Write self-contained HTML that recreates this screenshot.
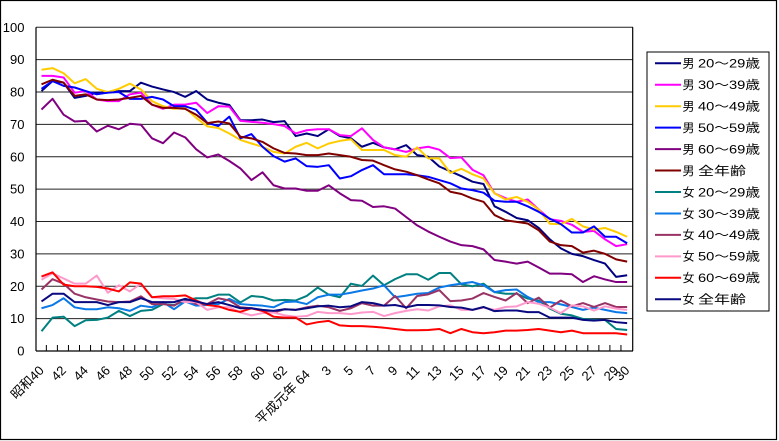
<!DOCTYPE html>
<html><head><meta charset="utf-8"><style>
html,body{margin:0;padding:0;background:#fff;}
svg{display:block;}
text{font-family:"Liberation Sans","Noto Sans CJK JP",sans-serif;fill:#000;}
</style></head><body>
<svg width="779" height="441" viewBox="0 0 779 441" xmlns="http://www.w3.org/2000/svg">
<rect x="0" y="0" width="779" height="441" fill="#fff"/>
<rect x="0.5" y="0.5" width="776" height="439" fill="none" stroke="#000" stroke-width="1.2"/>
<!-- gridlines -->
<g stroke="#222" stroke-width="1">
<line x1="36" x2="633" y1="27.3" y2="27.3"/>
<line x1="36" x2="633" y1="59.67" y2="59.67"/>
<line x1="36" x2="633" y1="92.04" y2="92.04"/>
<line x1="36" x2="633" y1="124.41" y2="124.41"/>
<line x1="36" x2="633" y1="156.78" y2="156.78"/>
<line x1="36" x2="633" y1="189.15" y2="189.15"/>
<line x1="36" x2="633" y1="221.52" y2="221.52"/>
<line x1="36" x2="633" y1="253.89" y2="253.89"/>
<line x1="36" x2="633" y1="286.26" y2="286.26"/>
<line x1="36" x2="633" y1="318.63" y2="318.63"/>
</g>
<g stroke="#000" stroke-width="1.2" fill="none">
<line x1="36" x2="36" y1="27.3" y2="351"/>
<line x1="632.7" x2="632.7" y1="27.3" y2="351"/>
<line x1="36" x2="633" y1="351" y2="351"/>
</g>
<!-- ticks -->
<g transform="translate(35.3,0) scale(11.05,1)">
<path vector-effect="non-scaling-stroke" stroke="#000" stroke-width="1" fill="none" d="M1 345V351M2 345V351M3 345V351M4 345V351M5 345V351M6 345V351M7 345V351M8 345V351M9 345V351M10 345V351M11 345V351M12 345V351M13 345V351M14 345V351M15 345V351M16 345V351M17 345V351M18 345V351M19 345V351M20 345V351M21 345V351M22 345V351M23 345V351M24 345V351M25 345V351M26 345V351M27 345V351M28 345V351M29 345V351M30 345V351M31 345V351M32 345V351M33 345V351M34 345V351M35 345V351M36 345V351M37 345V351M38 345V351M39 345V351M40 345V351M41 345V351M42 345V351M43 345V351M44 345V351M45 345V351M46 345V351M47 345V351M48 345V351M49 345V351M50 345V351M51 345V351M52 345V351M53 345V351"/>
</g>
<!-- y labels -->
<g font-size="13" text-anchor="end">
<text x="24.5" y="31.8">100</text>
<text x="24.5" y="64.2">90</text>
<text x="24.5" y="96.5">80</text>
<text x="24.5" y="128.9">70</text>
<text x="24.5" y="161.3">60</text>
<text x="24.5" y="193.6">50</text>
<text x="24.5" y="226">40</text>
<text x="24.5" y="258.4">30</text>
<text x="24.5" y="290.8">20</text>
<text x="24.5" y="323.1">10</text>
<text x="24.5" y="355.5">0</text>
</g>
<!-- x labels -->
<g font-size="13" text-anchor="end">
<text transform="translate(41.5,368) rotate(-45)" dy="0.35em">昭和40</text>
<text transform="translate(63.6,368) rotate(-45)" dy="0.35em">42</text>
<text transform="translate(85.7,368) rotate(-45)" dy="0.35em">44</text>
<text transform="translate(107.8,368) rotate(-45)" dy="0.35em">46</text>
<text transform="translate(129.9,368) rotate(-45)" dy="0.35em">48</text>
<text transform="translate(152,368) rotate(-45)" dy="0.35em">50</text>
<text transform="translate(174.1,368) rotate(-45)" dy="0.35em">52</text>
<text transform="translate(196.2,368) rotate(-45)" dy="0.35em">54</text>
<text transform="translate(218.3,368) rotate(-45)" dy="0.35em">56</text>
<text transform="translate(240.4,368) rotate(-45)" dy="0.35em">58</text>
<text transform="translate(262.5,368) rotate(-45)" dy="0.35em">60</text>
<text transform="translate(284.6,368) rotate(-45)" dy="0.35em">62</text>
<text transform="translate(307.5,372) rotate(-45)" dy="0.35em">平成元年 64</text>
<text transform="translate(328.8,368) rotate(-45)" dy="0.35em">3</text>
<text transform="translate(350.9,368) rotate(-45)" dy="0.35em">5</text>
<text transform="translate(373,368) rotate(-45)" dy="0.35em">7</text>
<text transform="translate(395.1,368) rotate(-45)" dy="0.35em">9</text>
<text transform="translate(417.2,368) rotate(-45)" dy="0.35em">11</text>
<text transform="translate(439.3,368) rotate(-45)" dy="0.35em">13</text>
<text transform="translate(461.4,368) rotate(-45)" dy="0.35em">15</text>
<text transform="translate(483.5,368) rotate(-45)" dy="0.35em">17</text>
<text transform="translate(505.6,368) rotate(-45)" dy="0.35em">19</text>
<text transform="translate(527.7,368) rotate(-45)" dy="0.35em">21</text>
<text transform="translate(549.8,368) rotate(-45)" dy="0.35em">23</text>
<text transform="translate(571.9,368) rotate(-45)" dy="0.35em">25</text>
<text transform="translate(594,368) rotate(-45)" dy="0.35em">27</text>
<text transform="translate(616.1,368) rotate(-45)" dy="0.35em">29</text>
<text transform="translate(627.2,368) rotate(-45)" dy="0.35em">30</text>
</g>
<!-- series -->
<g transform="translate(41.5,351) scale(11.05,-3.237)" fill="none" stroke-width="2" stroke-linejoin="round">
<polyline vector-effect="non-scaling-stroke" stroke="#000080" points="0,80.3 1,83.4 2,82.9 3,78.2 4,78.8 5,79.8 6,79.8 7,80.3 8,80.3 9,82.9 10,81.7 11,80.8 12,80 13,78.5 14,80.3 15,77.7 16,76.7 17,76 18,71.3 19,71.3 20,71.5 21,70.7 22,71 23,66.4 24,67.2 25,66.4 26,68.5 27,66.4 28,65.7 29,63.1 30,64.3 31,62.9 32,62.3 33,63.6 34,60.5 35,60 36,57 37,55.5 38,54 39,52.3 40,51.6 41,44.7 42,43 43,41.1 44,40.4 45,38 46,34.5 47,31.7 48,30 49,29.3 50,28.1 51,27 52,22.9 53,23.4"/>
<polyline vector-effect="non-scaling-stroke" stroke="#FF00FF" points="0,85 1,85 2,84.5 3,79.8 4,80.3 5,77.7 6,77.2 7,77.2 8,79.3 9,79.8 10,76.1 11,74.8 12,76.1 13,76.1 14,76.7 15,73.5 16,75.6 17,75.5 18,71.1 19,70.8 20,70.5 21,70.1 22,69.5 23,67.2 24,68.2 25,68.5 26,68.5 27,66.7 28,66.4 29,68.8 30,65.2 31,62.9 32,62.3 33,61.5 34,62.6 35,63.1 36,62.2 37,59.6 38,59.8 39,56 40,54.3 41,48.7 42,47.2 43,46.1 44,46.8 45,43.7 46,40.7 47,40.2 48,39 49,36.8 50,37.1 51,34.5 52,32.4 53,33"/>
<polyline vector-effect="non-scaling-stroke" stroke="#FFCC00" points="0,86.9 1,87.4 2,85.8 3,82.7 4,84 5,81 6,80 7,81 8,82.6 9,80.8 10,77.2 11,75.6 12,74.8 13,75.1 14,72 15,69.4 16,68.9 17,67.2 18,65.2 19,64.1 20,63.1 21,61.5 22,61 23,63.1 24,64.3 25,62.6 26,64.1 27,64.9 28,65.4 29,62.1 30,62.1 31,62.1 32,60.5 33,60 34,62.9 35,59.5 36,59.5 37,55 38,56.3 39,54.6 40,53.3 41,48.7 42,46.8 43,47.6 44,46.1 45,43.7 46,39.3 47,39.2 48,40.8 49,38.5 50,37.5 51,38 52,36.8 53,35.3"/>
<polyline vector-effect="non-scaling-stroke" stroke="#0000FF" points="0,81 1,83.4 2,81.9 3,81.4 4,80.3 5,79.3 6,79.8 7,80 8,77.9 9,77.9 10,78.5 11,77.7 12,75.6 13,75.6 14,74.5 15,70.5 16,69.5 17,72.4 18,65.7 19,67 20,63.1 21,60.2 22,58.5 23,59.5 24,57.1 25,56.9 26,57.4 27,53.3 28,54 29,55.9 30,57.4 31,54.6 32,54.6 33,54.6 34,54.3 35,53.8 36,52.8 37,51.8 38,50.2 39,49.7 40,48.9 41,46.4 42,46.1 43,46.1 44,44.7 45,43 46,40.9 47,39.2 48,36.6 49,36.6 50,38.5 51,35.3 52,35.3 53,33.3"/>
<polyline vector-effect="non-scaling-stroke" stroke="#800080" points="0,74.6 1,77.9 2,73 3,70.9 4,71.1 5,67.8 6,69.6 7,68.5 8,70.2 9,69.9 10,65.7 11,64.2 12,67.5 13,66 14,62.3 15,59.8 16,60.7 17,58.7 18,56.4 19,52.8 20,55.2 21,51.2 22,50.2 23,50.2 24,49.5 25,49.5 26,51.2 27,48.7 28,46.6 29,46.4 30,44.5 31,44.7 32,44 33,41.4 34,38.8 35,36.9 36,35.3 37,33.8 38,32.7 39,32.4 40,31.4 41,28.1 42,27.6 43,27 44,27.6 45,25.8 46,23.9 47,23.9 48,23.7 49,21.3 50,23.1 51,22.1 52,21.3 53,21.3"/>
<polyline vector-effect="non-scaling-stroke" stroke="#800000" points="0,82.4 1,83.8 2,82.9 3,78.8 4,79.3 5,77.7 6,77.5 7,77.7 8,78.2 9,78.8 10,76.1 11,75.1 12,75.1 13,74.8 14,73 15,70.4 16,70.9 17,70.3 18,66.2 19,65.7 20,64.6 21,62.6 22,61.2 23,61 24,60.5 25,60.5 26,61 27,60.5 28,60 29,59 30,58.8 31,57.4 32,56.1 33,55.4 34,54.3 35,53 36,51.8 37,49.2 38,48.5 39,47.1 40,46.1 41,42 42,40.4 43,39.9 44,39.4 45,37.3 46,33.8 47,32.7 48,32.4 49,30.4 50,31 51,30 52,28.3 53,27.6"/>
<polyline vector-effect="non-scaling-stroke" stroke="#008080" points="0,6.1 1,10.3 2,10.6 3,7.7 4,9.5 5,9.6 6,10.3 7,12.4 8,10.8 9,12.4 10,12.7 11,14.5 12,14.2 13,15.6 14,16.3 15,16.3 16,17.4 17,17.4 18,15 19,17 20,16.7 21,15.6 22,15.8 23,15.6 24,17 25,19.6 26,17.4 27,16.6 28,20.8 29,20.1 30,23.3 31,20.3 32,22.2 33,23.7 34,23.7 35,22 36,24.1 37,24.1 38,20.6 39,20 40,20.8 41,18.2 42,17.7 43,17.7 44,16.2 45,15.6 46,13.1 47,11.5 48,11 49,9.9 50,9.6 51,9.6 52,6.8 53,6.5"/>
<polyline vector-effect="non-scaling-stroke" stroke="#0A78E6" points="0,13.2 1,14.2 2,16.3 3,13.5 4,12.9 5,12.9 6,13.5 7,13.2 8,12.4 9,14 10,13.5 11,15.1 12,12.9 13,15.3 14,14 15,14.2 16,14.5 17,16.1 18,14.5 19,14.2 20,14 21,13.5 22,15.1 23,15.3 24,14.5 25,16.6 26,17.4 27,17.4 28,18 29,18.7 30,19.3 31,20.3 32,16.6 33,17.1 34,17.7 35,17.9 36,19.6 37,20.3 38,20.8 39,21.3 40,20.3 41,18.2 42,18.8 43,19 44,16.7 45,15.1 46,15.1 47,14.4 48,13.6 49,12.7 50,13.4 51,12.7 52,12 53,11.7"/>
<polyline vector-effect="non-scaling-stroke" stroke="#993366" points="0,19 1,22.2 2,20.8 3,17.7 4,16.6 5,15.9 6,15.3 7,15.1 8,15.3 9,16.9 10,14.5 11,14.5 12,14 13,16.1 14,14.5 15,14.5 16,16.3 17,15.6 18,13.5 19,13.2 20,12.4 21,11.9 22,12.9 23,12.7 24,13.5 25,14 26,13.5 27,12.4 28,13.2 29,14.8 30,14 31,14 32,17 33,13.2 34,17 35,17.5 36,18.8 37,15.4 38,15.6 39,16.2 40,17.9 41,16.7 42,15.6 43,17.9 44,14.8 45,16.5 46,13.4 47,15.6 48,13.8 49,14.8 50,13.6 51,14.8 52,13.6 53,13.6"/>
<polyline vector-effect="non-scaling-stroke" stroke="#FF99CC" points="0,22 1,24 2,22.4 3,20.8 4,20.8 5,23.3 6,18 7,20.3 8,18.4 9,20.8 10,16.6 11,16.3 12,16.1 13,15.1 14,15.1 15,12.7 16,13.5 17,13.5 18,11.9 19,11 20,11.7 21,11.9 22,11 23,10.6 24,10.8 25,12.1 26,11.7 27,11.7 28,11.4 29,11.9 30,12.1 31,10.8 32,11.7 33,12.4 34,12.9 35,12.5 36,13.8 37,14.1 38,12.7 39,12.7 40,13.4 41,12.7 42,13.6 43,13.8 44,15.1 45,14.6 46,13.4 47,11.7 48,14.1 49,13.8 50,12.5 51,13.8 52,13.1 53,12.7"/>
<polyline vector-effect="non-scaling-stroke" stroke="#FF0000" points="0,23 1,24.3 2,20.5 3,20 4,20 5,19.8 6,19.3 7,18.4 8,21.2 9,20.8 10,16.6 11,16.9 12,16.9 13,17.2 14,15.6 15,14.2 16,13.8 17,12.7 18,12.1 19,13.2 20,12.4 21,10.6 22,10.3 23,10.3 24,8.2 25,8.9 26,9.3 27,7.9 28,7.7 29,7.7 30,7.5 31,7.2 32,6.8 33,6.4 34,6.4 35,6.5 36,6.8 37,5.5 38,6.8 39,5.8 40,5.5 41,5.8 42,6.3 43,6.3 44,6.5 45,6.8 46,6.3 47,5.8 48,6.3 49,5.5 50,5.5 51,5.5 52,5.5 53,5.1"/>
<polyline vector-effect="non-scaling-stroke" stroke="#0A0A80" points="0,15.3 1,17.7 2,17.7 3,15.1 4,15.1 5,15.1 6,14.2 7,15.1 8,15.1 9,16.3 10,15.1 11,15.1 12,15.1 13,16.1 14,15.3 15,14.5 16,15.1 17,14.2 18,13.2 19,13.2 20,12.7 21,12.4 22,12.9 23,12.7 24,13.2 25,13.8 26,14 27,13.5 28,13.8 29,15.1 30,14.8 31,14 32,14.2 33,13.5 34,14.2 35,14.2 36,14.1 37,13.6 38,13.4 39,12.7 40,13.6 41,12.3 42,12.5 43,12.5 44,12 45,12 46,10.3 47,10.3 48,10.3 49,9.6 50,9.4 51,9.6 52,8.9 53,8.6"/>
</g>
<!-- legend -->
<rect x="647" y="52" width="122" height="259" fill="#fff" stroke="#000" stroke-width="1"/>
<g stroke-width="2">
<line x1="655" x2="681" y1="63.3" y2="63.3" stroke="#000080"/>
<line x1="655" x2="681" y1="84.75" y2="84.75" stroke="#FF00FF"/>
<line x1="655" x2="681" y1="106.2" y2="106.2" stroke="#FFCC00"/>
<line x1="655" x2="681" y1="127.65" y2="127.65" stroke="#0000FF"/>
<line x1="655" x2="681" y1="149.1" y2="149.1" stroke="#800080"/>
<line x1="655" x2="681" y1="170.55" y2="170.55" stroke="#800000"/>
<line x1="655" x2="681" y1="192" y2="192" stroke="#008080"/>
<line x1="655" x2="681" y1="213.45" y2="213.45" stroke="#0A78E6"/>
<line x1="655" x2="681" y1="234.9" y2="234.9" stroke="#993366"/>
<line x1="655" x2="681" y1="256.35" y2="256.35" stroke="#FF99CC"/>
<line x1="655" x2="681" y1="277.8" y2="277.8" stroke="#FF0000"/>
<line x1="655" x2="681" y1="299.25" y2="299.25" stroke="#0A0A80"/>
</g>
<g font-size="12">
<text x="682.5" y="67.6">男</text><text x="698" y="67.6" textLength="62" lengthAdjust="spacingAndGlyphs">20～29歳</text>
<text x="682.5" y="89.05">男</text><text x="698" y="89.05" textLength="62" lengthAdjust="spacingAndGlyphs">30～39歳</text>
<text x="682.5" y="110.5">男</text><text x="698" y="110.5" textLength="62" lengthAdjust="spacingAndGlyphs">40～49歳</text>
<text x="682.5" y="131.95">男</text><text x="698" y="131.95" textLength="62" lengthAdjust="spacingAndGlyphs">50～59歳</text>
<text x="682.5" y="153.4">男</text><text x="698" y="153.4" textLength="62" lengthAdjust="spacingAndGlyphs">60～69歳</text>
<text x="682.5" y="174.85">男</text><text x="698" y="174.85" textLength="48" lengthAdjust="spacingAndGlyphs">全年齢</text>
<text x="682.5" y="196.3">女</text><text x="698" y="196.3" textLength="62" lengthAdjust="spacingAndGlyphs">20～29歳</text>
<text x="682.5" y="217.75">女</text><text x="698" y="217.75" textLength="62" lengthAdjust="spacingAndGlyphs">30～39歳</text>
<text x="682.5" y="239.2">女</text><text x="698" y="239.2" textLength="62" lengthAdjust="spacingAndGlyphs">40～49歳</text>
<text x="682.5" y="260.65">女</text><text x="698" y="260.65" textLength="62" lengthAdjust="spacingAndGlyphs">50～59歳</text>
<text x="682.5" y="282.1">女</text><text x="698" y="282.1" textLength="62" lengthAdjust="spacingAndGlyphs">60～69歳</text>
<text x="682.5" y="303.55">女</text><text x="698" y="303.55" textLength="48" lengthAdjust="spacingAndGlyphs">全年齢</text>
</g>
</svg>
</body></html>
